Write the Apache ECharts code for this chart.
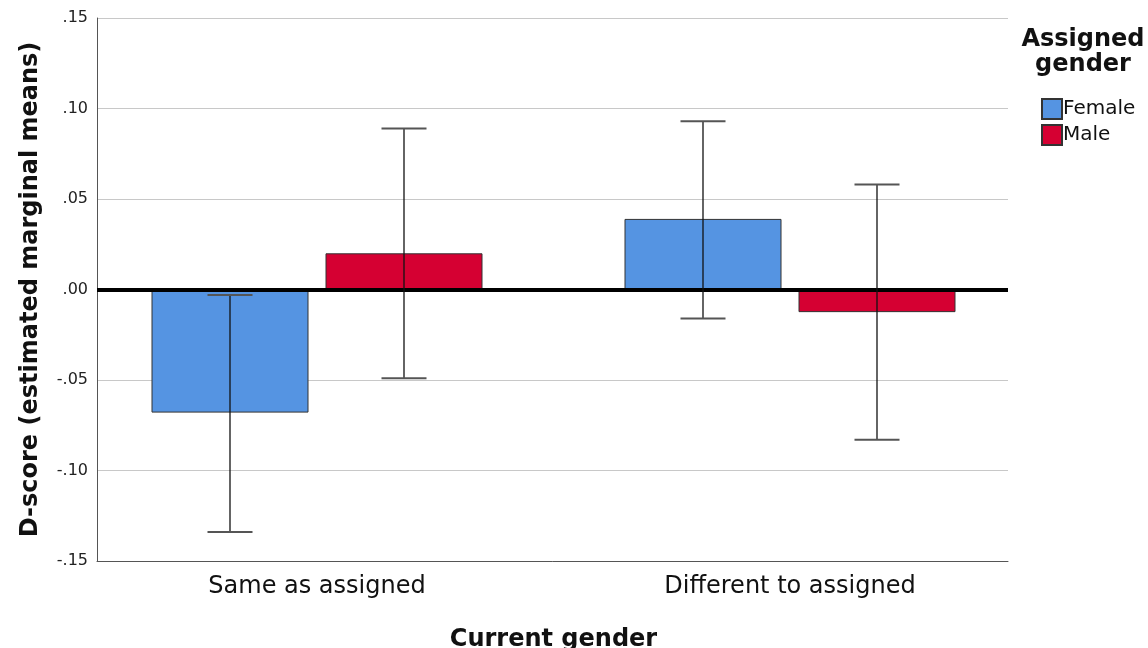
<!DOCTYPE html>
<html><head><meta charset="utf-8">
<script src="https://cdn.jsdelivr.net/npm/echarts@6/dist/echarts.min.js"></script>
<style>html,body{margin:0;padding:0;background:#fff}#c{width:1148px;height:648px}</style>
</head><body><div id="c"></div>
<script>
const categories = ['Same as assigned', 'Different to assigned'];
const seriesNames = ['Female', 'Male'];
const femaleMeans = [-0.068, 0.039];
const maleMeans = [0.020, -0.0125];
const femaleLower = [-0.134, -0.016];
const femaleUpper = [-0.003, 0.093];
const maleLower = [-0.049, -0.083];
const maleUpper = [0.089, 0.058];
const yTicks = [-0.15, -0.10, -0.05, 0.00, 0.05, 0.10, 0.15];

const FONT = 'DejaVu Sans';
const BAR_W = 157, BAR_GAP = 17;
const colors = ['#5594E2', '#D50032'];

function fmt(v) {
  const s = Math.abs(v).toFixed(2).replace(/^0/, '');
  return (v < -1e-9 ? '-' : '') + s;
}

const errData = [];
categories.forEach((c, i) => {
  errData.push([i, femaleLower[i], femaleUpper[i], 0]);
  errData.push([i, maleLower[i], maleUpper[i], 1]);
});

const chart = echarts.init(document.getElementById('c'));
chart.setOption({
  animation: false,
  backgroundColor: '#fff',
  grid: [
    {left: 97, right: 140, top: 18, bottom: 87, containLabel: false, outerBoundsMode: 'none'},
    {left: 80.5, right: 121.5, top: 18, bottom: 87, containLabel: false, outerBoundsMode: 'none'}
  ],
  xAxis: [
    {gridIndex: 0, type: 'category', data: categories, position: 'bottom',
     axisLine: {onZero: false, lineStyle: {color: '#555', width: 1}},
     axisTick: {show: false}, axisLabel: {show: false}},
    {gridIndex: 1, type: 'category', data: categories,
     axisLine: {show: false}, axisTick: {show: false},
     axisLabel: {color: '#111', fontSize: 24, fontFamily: FONT, margin: 14},
     name: 'Current gender', nameLocation: 'middle', nameGap: 67,
     nameTextStyle: {color: '#111', fontSize: 24, fontWeight: 'bold', fontFamily: FONT}}
  ],
  yAxis: [
    {gridIndex: 0, type: 'value', min: yTicks[0], max: yTicks[yTicks.length - 1], interval: 0.05,
     axisLine: {show: true, lineStyle: {color: '#555', width: 1}},
     axisTick: {show: false},
     splitLine: {lineStyle: {color: '#c8c8c8', width: 1.2}},
     axisLabel: {formatter: fmt, color: '#222', fontSize: 16, fontFamily: FONT, margin: 9},
     name: 'D-score (estimated marginal means)', nameLocation: 'middle', nameGap: 54,
     nameTextStyle: {color: '#111', fontSize: 24, fontWeight: 'bold', fontFamily: FONT}},
    {gridIndex: 1, type: 'value', min: yTicks[0], max: yTicks[yTicks.length - 1], interval: 0.05, show: false,
     splitLine: {show: false}}
  ],
  legend: {
    orient: 'vertical', left: 1036, top: 93, itemWidth: 20, itemHeight: 20, itemGap: 4,
    icon: 'rect',
    data: seriesNames,
    textStyle: {color: '#111', fontSize: 20, fontFamily: FONT, padding: [0, 0, 0, -4]}
  },
  graphic: [
    {type: 'text', x: 1083, y: 27,
     style: {text: 'Assigned\ngender', fill: '#111', font: 'bold 24px "DejaVu Sans"', textAlign: 'center', lineHeight: 25}}
  ],
  series: [
    {name: 'Female', type: 'bar', xAxisIndex: 1, yAxisIndex: 1, data: femaleMeans,
     barWidth: BAR_W, barGap: (BAR_GAP / BAR_W * 100) + '%',
     itemStyle: {color: colors[0], borderColor: '#333', borderWidth: 1}, z: 2},
    {name: 'Male', type: 'bar', xAxisIndex: 1, yAxisIndex: 1, data: maleMeans,
     barWidth: BAR_W, barGap: (BAR_GAP / BAR_W * 100) + '%',
     itemStyle: {color: colors[1], borderColor: '#333', borderWidth: 1}, z: 2},
    {type: 'line', xAxisIndex: 0, yAxisIndex: 0, data: [], z: 5,
     markLine: {silent: true, symbol: 'none', label: {show: false},
       lineStyle: {color: '#000', width: 4, type: 'solid'}, data: [{yAxis: 0}]}},
    {type: 'custom', xAxisIndex: 1, yAxisIndex: 1, z: 10, data: errData,
     renderItem: function (params, api) {
       const cat = api.value(0), lo = api.value(1), hi = api.value(2), s = api.value(3);
       const off = (s === 0 ? -1 : 1) * (BAR_W + BAR_GAP) / 2;
       const pLo = api.coord([cat, lo]), pHi = api.coord([cat, hi]);
       const x = pLo[0] + off, hw = 22.5;
       return {type: 'group', children: [
         {type: 'line', shape: {x1: x, y1: pLo[1], x2: x, y2: pHi[1]}, style: {stroke: '#111', lineWidth: 1.3}},
         {type: 'line', shape: {x1: x - hw, y1: pLo[1], x2: x + hw, y2: pLo[1]}, style: {stroke: '#555', lineWidth: 2}},
         {type: 'line', shape: {x1: x - hw, y1: pHi[1], x2: x + hw, y2: pHi[1]}, style: {stroke: '#555', lineWidth: 2}}
       ]};
     }}
  ]
});
</script></body></html>
